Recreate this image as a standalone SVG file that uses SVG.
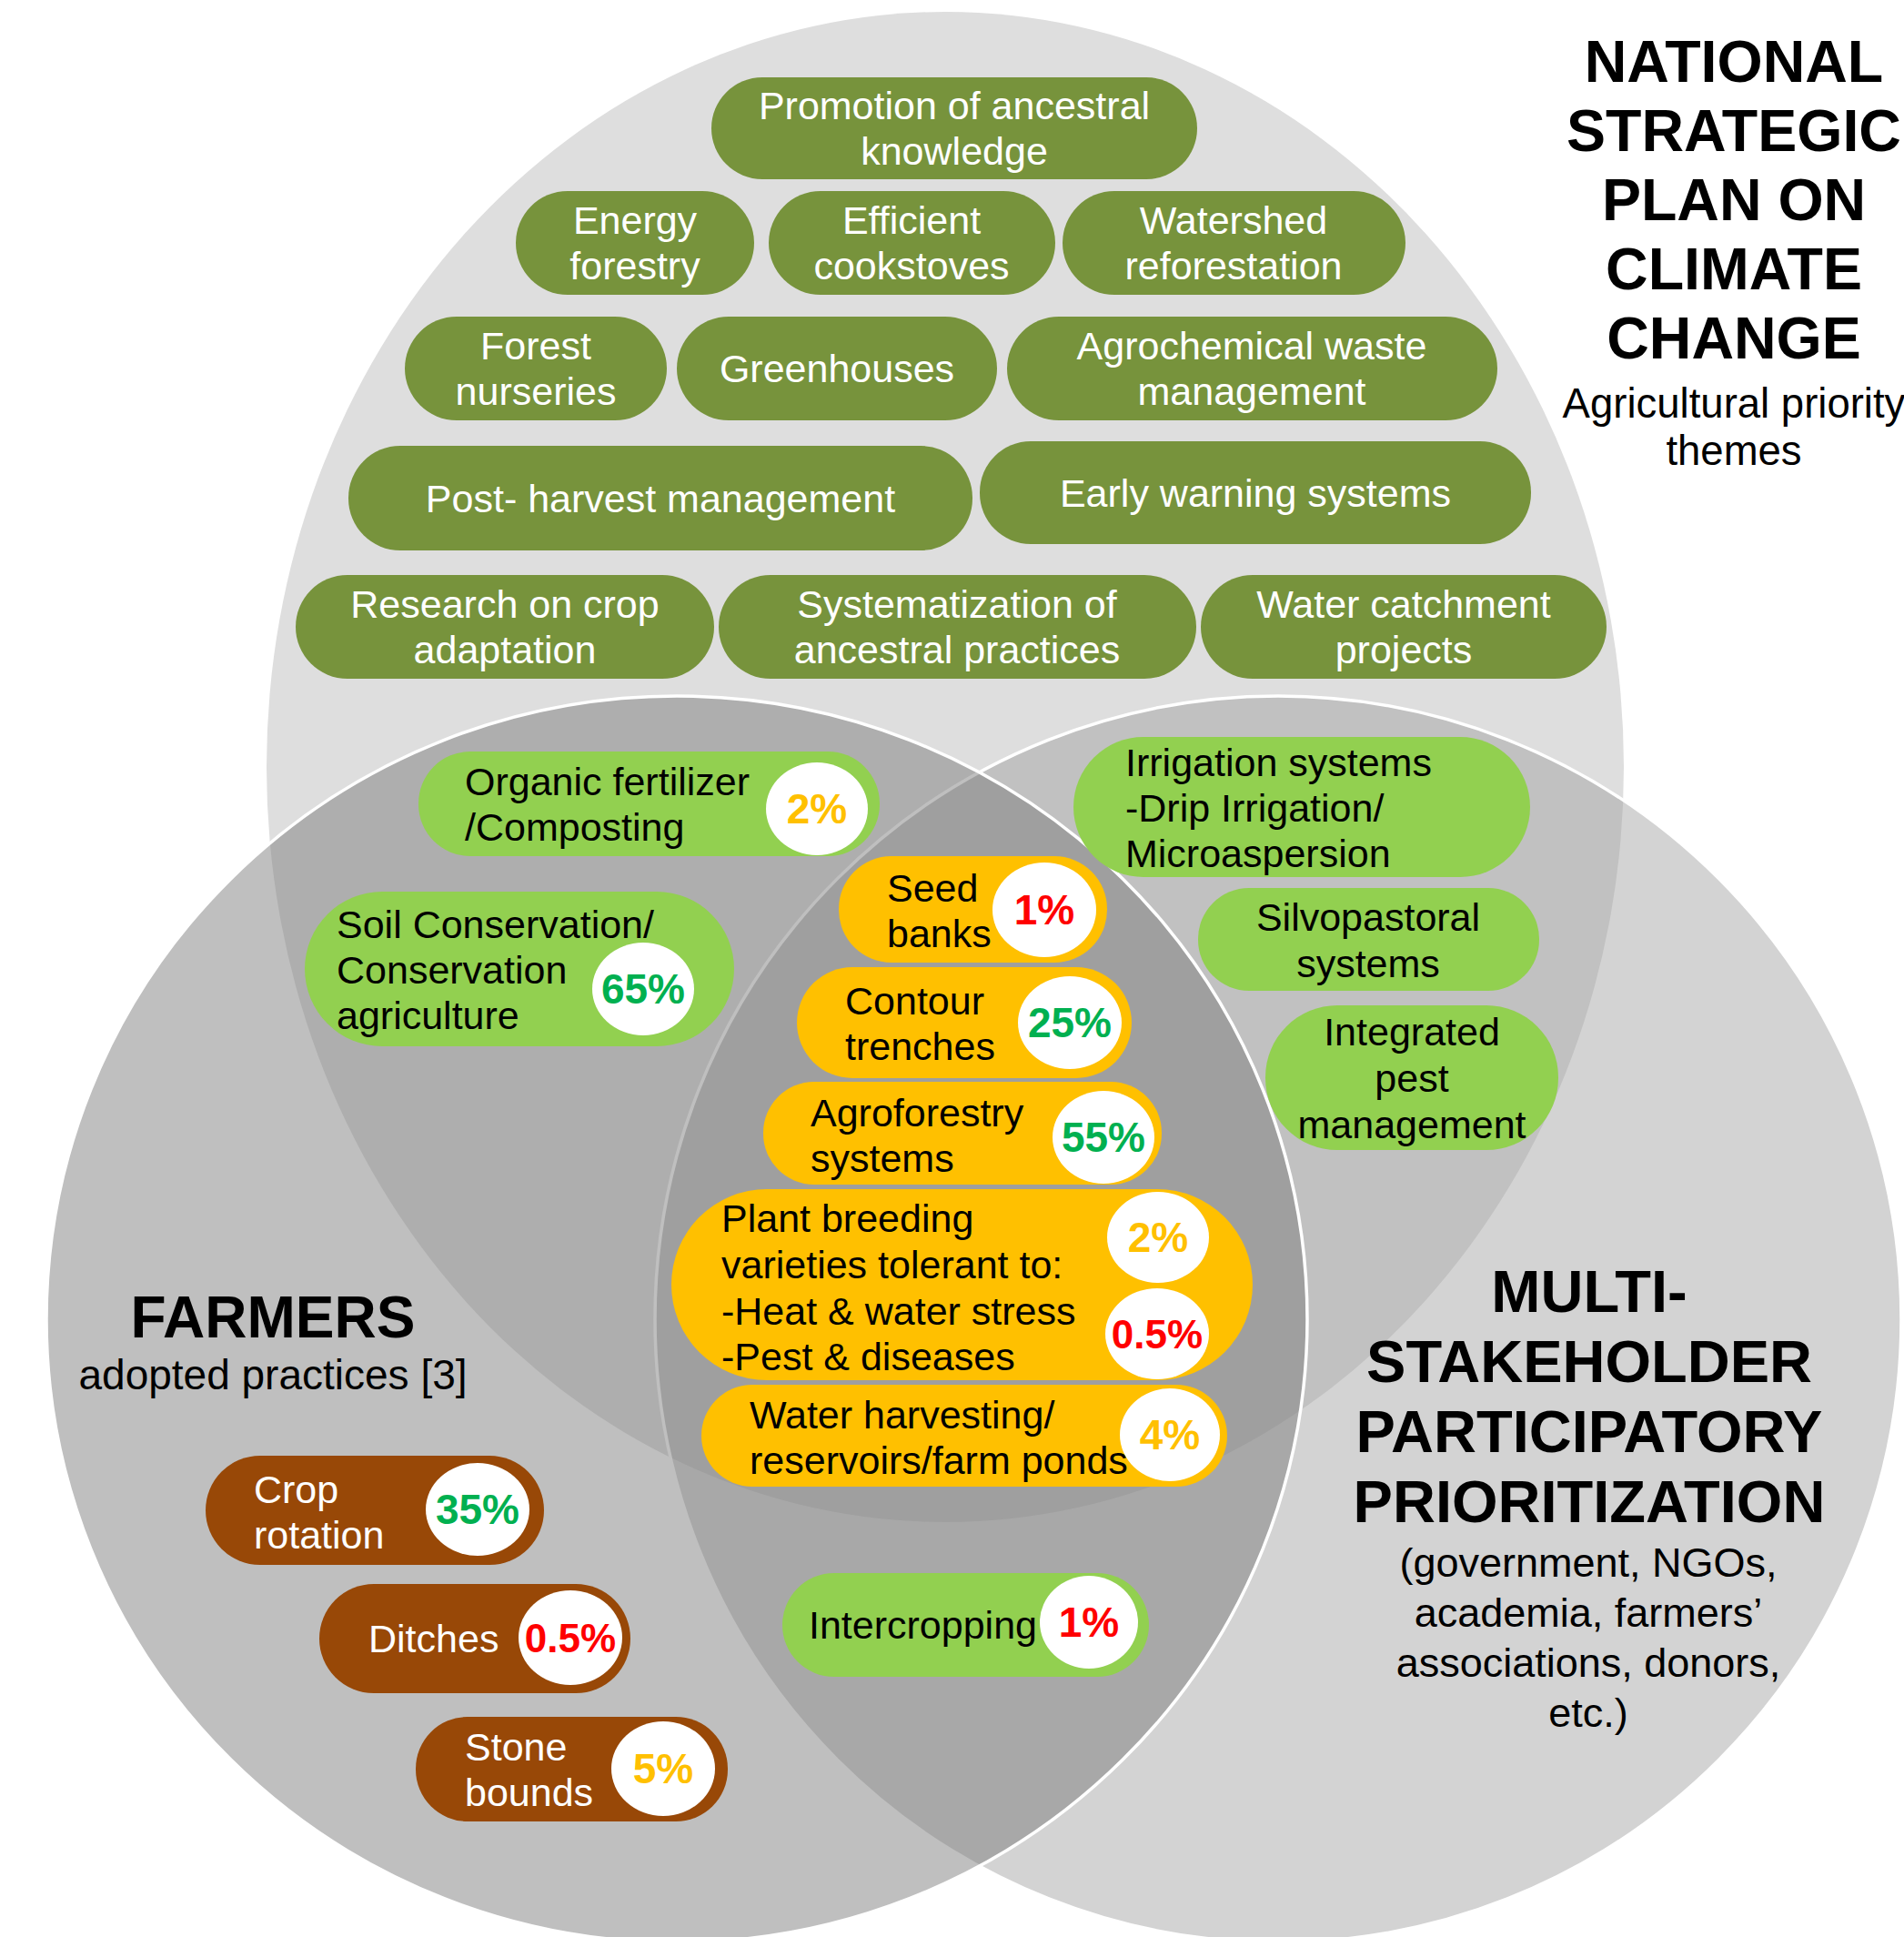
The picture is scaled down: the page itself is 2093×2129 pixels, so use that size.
<svg xmlns="http://www.w3.org/2000/svg" width="2093" height="2129" viewBox="0 0 2093 2129">
<style>
text{font-family:"Liberation Sans",Arial,Helvetica,sans-serif}
.dg{fill:#77933c}
.lg{fill:#92d050}
.or{fill:#ffc000}
.br{fill:#984807}
.badge{fill:#ffffff}
.tw{fill:#ffffff;font-size:43px}
.tb{fill:#000000;font-size:43px}
.c{text-anchor:middle}
.pc{font-size:46px;font-weight:bold;text-anchor:middle}
.pg{fill:#00b050}
.pr{fill:#ff0000}
.po{fill:#ffc000}
.title{font-size:64px;font-weight:bold;fill:#000;text-anchor:middle}
.sub{font-size:45px;fill:#000;text-anchor:middle}
</style>
<rect x="0" y="0" width="2093" height="2129" fill="#ffffff"/>
<g id="venn">
<ellipse id="c-national" cx="1039" cy="843" rx="746" ry="830" fill="#dedede"/>
<circle id="c-multi" cx="1405" cy="1450" r="685" fill="rgb(158,158,158)" fill-opacity="0.455" stroke="#ffffff" stroke-width="3.5"/>
<ellipse id="c-farmers" cx="744" cy="1450" rx="693" ry="685" fill="rgb(123,123,123)" fill-opacity="0.485" stroke="#ffffff" stroke-width="3.5"/>
</g>
<g id="connectors"></g>
<g id="labels">
<text class="title" style="font-size:64.5px"><tspan x="1906" y="90">NATIONAL</tspan><tspan x="1906" y="166">STRATEGIC</tspan><tspan x="1906" y="242">PLAN ON</tspan><tspan x="1906" y="318">CLIMATE</tspan><tspan x="1906" y="394">CHANGE</tspan></text>
<text class="sub" style="font-size:45.5px"><tspan x="1906" y="459">Agricultural priority</tspan><tspan x="1906" y="511">themes</tspan></text>
<text class="title" style="font-size:64px"><tspan x="300" y="1470">FARMERS</tspan></text>
<text class="sub" style="font-size:46px"><tspan x="300" y="1527">adopted practices [3]</tspan></text>
<text class="title" style="font-size:65px"><tspan x="1747" y="1442">MULTI-</tspan><tspan x="1747" y="1519">STAKEHOLDER</tspan><tspan x="1747" y="1596">PARTICIPATORY</tspan><tspan x="1747" y="1673">PRIORITIZATION</tspan></text>
<text class="sub"><tspan x="1746" y="1733">(government, NGOs,</tspan><tspan x="1746" y="1788">academia, farmers’</tspan><tspan x="1746" y="1843">associations, donors,</tspan><tspan x="1746" y="1898">etc.)</tspan></text>
</g>
<g id="n-promotion"><rect class="dg" x="782" y="85" width="534" height="112" rx="56"/><text class="tw c"><tspan x="1049" y="131">Promotion of ancestral</tspan><tspan x="1049" y="181">knowledge</tspan></text></g>
<g id="n-energy"><rect class="dg" x="567" y="210" width="262" height="114" rx="57"/><text class="tw c"><tspan x="698" y="257">Energy</tspan><tspan x="698" y="307">forestry</tspan></text></g>
<g id="n-cookstoves"><rect class="dg" x="845" y="210" width="315" height="114" rx="57"/><text class="tw c"><tspan x="1002" y="257">Efficient</tspan><tspan x="1002" y="307">cookstoves</tspan></text></g>
<g id="n-watershed"><rect class="dg" x="1168" y="210" width="377" height="114" rx="57"/><text class="tw c"><tspan x="1356" y="257">Watershed</tspan><tspan x="1356" y="307">reforestation</tspan></text></g>
<g id="n-nurseries"><rect class="dg" x="445" y="348" width="288" height="114" rx="57"/><text class="tw c"><tspan x="589" y="395">Forest</tspan><tspan x="589" y="445">nurseries</tspan></text></g>
<g id="n-greenhouses"><rect class="dg" x="744" y="348" width="352" height="114" rx="57"/><text class="tw c"><tspan x="920" y="420">Greenhouses</tspan></text></g>
<g id="n-agrochemical"><rect class="dg" x="1107" y="348" width="539" height="114" rx="57"/><text class="tw c"><tspan x="1376" y="395">Agrochemical waste</tspan><tspan x="1376" y="445">management</tspan></text></g>
<g id="n-postharvest"><rect class="dg" x="383" y="490" width="686" height="115" rx="57"/><text class="tw c"><tspan x="726" y="563">Post- harvest management</tspan></text></g>
<g id="n-earlywarning"><rect class="dg" x="1077" y="485" width="606" height="113" rx="56"/><text class="tw c"><tspan x="1380" y="557">Early warning systems</tspan></text></g>
<g id="n-research"><rect class="dg" x="325" y="632" width="460" height="114" rx="57"/><text class="tw c"><tspan x="555" y="679">Research on crop</tspan><tspan x="555" y="729">adaptation</tspan></text></g>
<g id="n-systematization"><rect class="dg" x="790" y="632" width="525" height="114" rx="57"/><text class="tw c"><tspan x="1052" y="679">Systematization of</tspan><tspan x="1052" y="729">ancestral practices</tspan></text></g>
<g id="n-watercatchment"><rect class="dg" x="1320" y="632" width="446" height="114" rx="57"/><text class="tw c"><tspan x="1543" y="679">Water catchment</tspan><tspan x="1543" y="729">projects</tspan></text></g>
<g id="n-organic"><rect class="lg" x="460" y="826" width="507" height="115" rx="57"/><text class="tb"><tspan x="511" y="874">Organic fertilizer</tspan><tspan x="511" y="924">/Composting</tspan></text><ellipse class="badge" cx="898" cy="889" rx="56" ry="51"/><text class="pc po" x="898" y="905">2%</text></g>
<g id="n-soil"><rect class="lg" x="335" y="980" width="472" height="170" rx="85"/><text class="tb"><tspan x="370" y="1031">Soil Conservation/</tspan><tspan x="370" y="1081">Conservation</tspan><tspan x="370" y="1131">agriculture</tspan></text><ellipse class="badge" cx="707" cy="1087" rx="56" ry="51"/><text class="pc pg" x="707" y="1103">65%</text></g>
<g id="n-seedbanks"><rect class="or" x="922" y="941" width="295" height="117" rx="58"/><text class="tb"><tspan x="975" y="991">Seed</tspan><tspan x="975" y="1041">banks</tspan></text><ellipse class="badge" cx="1148" cy="1000" rx="57" ry="52"/><text class="pc pr" x="1148" y="1016">1%</text></g>
<g id="n-contour"><rect class="or" x="876" y="1063" width="368" height="122" rx="61"/><text class="tb"><tspan x="929" y="1115">Contour</tspan><tspan x="929" y="1165">trenches</tspan></text><ellipse class="badge" cx="1176" cy="1124" rx="57" ry="51"/><text class="pc pg" x="1176" y="1140">25%</text></g>
<g id="n-agroforestry"><rect class="or" x="839" y="1189" width="438" height="113" rx="56"/><text class="tb"><tspan x="891" y="1238">Agroforestry</tspan><tspan x="891" y="1288">systems</tspan></text><ellipse class="badge" cx="1213" cy="1250" rx="56" ry="51"/><text class="pc pg" x="1213" y="1266">55%</text></g>
<g id="n-plantbreeding"><rect class="or" x="738" y="1307" width="639" height="210" rx="105"/><text class="tb"><tspan x="793" y="1354">Plant breeding</tspan><tspan x="793" y="1405">varieties tolerant to:</tspan><tspan x="793" y="1456">-Heat &amp; water stress</tspan><tspan x="793" y="1506">-Pest &amp; diseases</tspan></text><ellipse class="badge" cx="1273" cy="1360" rx="56" ry="50"/><text class="pc po" x="1273" y="1376">2%</text><ellipse class="badge" cx="1272" cy="1466" rx="57" ry="50"/><text class="pc pr" x="1272" y="1482" style="font-size:44px">0.5%</text></g>
<g id="n-waterharvesting"><rect class="or" x="771" y="1522" width="578" height="112" rx="56"/><text class="tb"><tspan x="824" y="1570">Water harvesting/</tspan><tspan x="824" y="1620">reservoirs/farm ponds</tspan></text><ellipse class="badge" cx="1286" cy="1577" rx="55" ry="51"/><text class="pc po" x="1286" y="1593">4%</text></g>
<g id="n-irrigation"><rect class="lg" x="1180" y="810" width="502" height="154" rx="77"/><text class="tb"><tspan x="1237" y="853">Irrigation systems</tspan><tspan x="1237" y="903">-Drip Irrigation/</tspan><tspan x="1237" y="953">Microaspersion</tspan></text></g>
<g id="n-silvopastoral"><rect class="lg" x="1317" y="976" width="375" height="113" rx="56"/><text class="tb c"><tspan x="1504" y="1023">Silvopastoral</tspan><tspan x="1504" y="1074">systems</tspan></text></g>
<g id="n-ipm"><rect class="lg" x="1391" y="1105" width="322" height="159" rx="79"/><text class="tb c"><tspan x="1552" y="1149">Integrated</tspan><tspan x="1552" y="1200">pest</tspan><tspan x="1552" y="1251">management</tspan></text></g>
<g id="n-intercropping"><rect class="lg" x="860" y="1729" width="403" height="114" rx="57"/><text class="tb"><tspan x="889" y="1801">Intercropping</tspan></text><ellipse class="badge" cx="1197" cy="1783" rx="54" ry="51"/><text class="pc pr" x="1197" y="1799">1%</text></g>
<g id="n-croprotation"><rect class="br" x="226" y="1600" width="372" height="120" rx="60"/><text class="tw"><tspan x="279" y="1652">Crop</tspan><tspan x="279" y="1702">rotation</tspan></text><ellipse class="badge" cx="525" cy="1659" rx="57" ry="51"/><text class="pc pg" x="525" y="1675">35%</text></g>
<g id="n-ditches"><rect class="br" x="351" y="1741" width="342" height="120" rx="60"/><text class="tw"><tspan x="405" y="1816">Ditches</tspan></text><ellipse class="badge" cx="627" cy="1800" rx="57" ry="52"/><text class="pc pr" x="627" y="1816" style="font-size:44px">0.5%</text></g>
<g id="n-stonebounds"><rect class="br" x="457" y="1887" width="343" height="115" rx="57"/><text class="tw"><tspan x="511" y="1935">Stone</tspan><tspan x="511" y="1985">bounds</tspan></text><ellipse class="badge" cx="729" cy="1944" rx="57" ry="52"/><text class="pc po" x="729" y="1960">5%</text></g>
</svg>
